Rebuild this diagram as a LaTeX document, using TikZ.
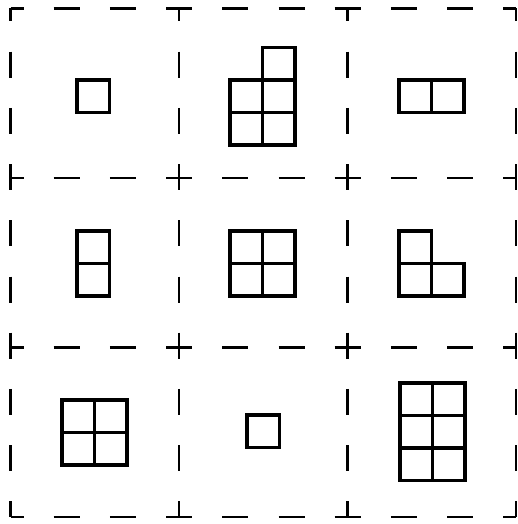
\documentclass[tikz,border=0pt]{standalone}

\begin{document}
\begin{tikzpicture}[
  x=1pt, y=-1pt,
  cut/.style={line width=2.2pt, dash pattern=on 26pt off 30.2pt, dash phase=13pt},
  tile/.style={line width=3.6pt, line join=miter}
]
\useasboundingbox (0,0) rectangle (517,524);

\foreach \i in {0,...,3} {
  \draw[cut] (10.5+168.5*\i, 8.5) -- (10.5+168.5*\i, 517);
  \draw[cut] (10.5, 8.5+169.5*\i) -- (516, 8.5+169.5*\i);
}

\foreach \x/\y in {
  77/80,
  262.5/47.5, 230/80, 262.5/80, 230/112.5, 262.5/112.5,
  399/80, 431.5/80,
  77/231, 77/263.5,
  230/231, 262.5/231, 230/263.5, 262.5/263.5,
  399/231, 399/263.5, 431.5/263.5,
  62/400, 94.5/400, 62/432.5, 94.5/432.5,
  247/415,
  400/383, 432.5/383, 400/415.5, 432.5/415.5, 400/448, 432.5/448}
  \draw[tile] (\x,\y) rectangle ++(32.5,32.5);

\end{tikzpicture}
\end{document}
